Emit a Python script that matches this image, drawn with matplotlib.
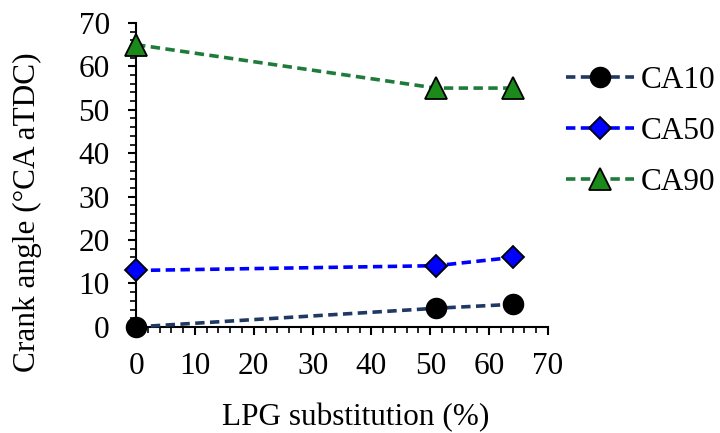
import matplotlib
matplotlib.use("Agg")
import matplotlib.pyplot as plt
from matplotlib.ticker import MultipleLocator

# data
lpg = [0, 51, 64]
ca10 = [0, 4.3, 5.2]
ca50 = [13, 14.1, 16]
ca90 = [65, 55, 55]

plt.rcParams['font.family'] = ['Liberation Serif', 'DejaVu Serif']
FS = 22.5

fig = plt.figure(figsize=(7.2, 4.33), dpi=100)
ax = fig.add_axes([0.189, 0.245, 0.572, 0.702])

dash = (0, (2.6, 1.5))
ax.plot(lpg, ca10, linestyle=dash, color='#1f3864', lw=2.6,
        marker='o', ms=14.5, mfc='black', mec='black', label='CA10', clip_on=False, zorder=5)
ax.plot(lpg, ca50, linestyle=dash, color='#0000ff', lw=2.6,
        marker='D', ms=11.5, mfc='#0000ff', mec='black', mew=1.3, label='CA50', clip_on=False, zorder=5)
ax.plot(lpg, ca90, linestyle=dash, color='#1e7b3a', lw=2.6,
        marker='^', ms=16, mfc='#1b8a1b', mec='black', mew=1.3, label='CA90', clip_on=False, zorder=5)

ax.set_xlim(0, 70)
ax.set_ylim(0, 70)
ax.xaxis.set_major_locator(MultipleLocator(10))
ax.xaxis.set_minor_locator(MultipleLocator(2))
ax.yaxis.set_major_locator(MultipleLocator(10))
ax.yaxis.set_minor_locator(MultipleLocator(2))

for s in ['top', 'right']:
    ax.spines[s].set_visible(False)
for s in ['left', 'bottom']:
    ax.spines[s].set_linewidth(1.5)
    ax.spines[s].set_color('black')

ax.tick_params(which='major', direction='out', length=6, width=1.5, labelsize=FS)
ax.tick_params(axis='x', which='major', pad=12)
ax.tick_params(axis='y', which='major', pad=13)
ax.tick_params(which='minor', direction='out', length=4, width=1.2)

ax.set_xlabel('LPG substitution (%)', fontsize=FS)
ax.xaxis.set_label_coords(0.534, -0.25)
ax.set_ylabel('Crank angle (°CA aTDC)', fontsize=FS)
ax.yaxis.set_label_coords(-0.228, 0.378)

ax.legend(loc='upper left', bbox_to_anchor=(0.99, 0.93), frameon=False, fontsize=FS,
          handlelength=2.2, handletextpad=0.2, labelspacing=0.7, borderaxespad=0.3)

fig.savefig('out.png', dpi=100)
